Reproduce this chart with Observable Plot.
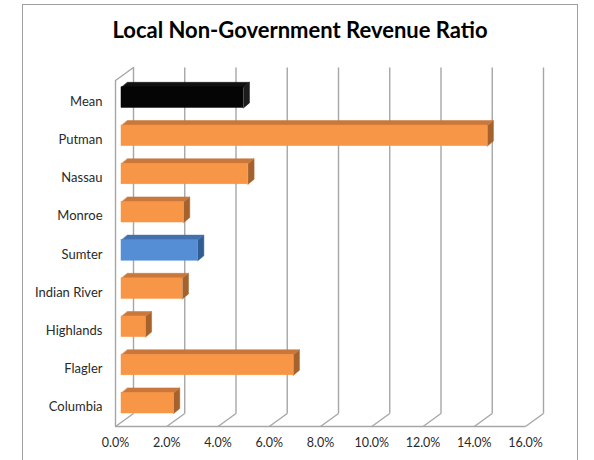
<!DOCTYPE html>
<html>
<head>
<meta charset="utf-8">
<script src="https://cdn.jsdelivr.net/npm/d3@7"></script>
<script src="https://cdn.jsdelivr.net/npm/@observablehq/plot@0.6"></script>
<style>
  html, body { margin: 0; padding: 0; background: #fff; }
  #wrap { position: relative; width: 594px; height: 460px; overflow: hidden; font-family: Lato, "Open Sans", sans-serif; }
  #frame { position: absolute; left: 22px; top: 4px; width: 556px; height: 480px; border: 1.5px solid #a0a0a0; box-sizing: border-box; }
  #title { position: absolute; left: 0; width: 594px; top: 19px; line-height: 22px; text-align: center; font-size: 22px; font-weight: 700; color: #000; padding-left: 6px; box-sizing: border-box; }
  #chart { position: absolute; left: 0; top: 0; }
</style>
</head>
<body>
<div id="wrap">
  <div id="frame"></div>
  <div id="chart"></div>
  <div id="title">Local Non-Government Revenue Ratio</div>
</div>
<script>
// ---- data ----
const categories = ["Mean", "Putman", "Nassau", "Monroe", "Sumter", "Indian River", "Highlands", "Flagler", "Columbia"];
const values = [0.0476, 0.1428, 0.0494, 0.0243, 0.0298, 0.0238, 0.0094, 0.0671, 0.0204];
const roles = ["mean", "county", "county", "county", "focus", "county", "county", "county", "county"];
const xTicks = [0, 0.02, 0.04, 0.06, 0.08, 0.10, 0.12, 0.14, 0.16];

// ---- styling ----
const palette = {
  mean:   {front: "#050505", top: "#111111", side: "#1c1c1c"},
  county: {front: "#F79646", top: "#C9773A", side: "#A6622C"},
  focus:  {front: "#558ED5", top: "#4371AE", side: "#305D92"}
};
const W = 594, H = 460;
const xDomain = [0, 0.16], xRange = [115, 525];
const yDomain = [-0.448, 8.61], yRange = [80, 426];
const kx = (xRange[1] - xRange[0]) / (xDomain[1] - xDomain[0]);
const ky = (yRange[1] - yRange[0]) / (yDomain[1] - yDomain[0]);
const wallDX = 18 / kx, wallDY = -13 / ky;
const barX0 = 6 / kx, barDX = 6 / kx, barDY = -5 / ky, barHalf = 10.3 / ky;
const yTop = yDomain[0], yFloor = yDomain[1];

const bars = categories.map((c, i) => ({
  cat: c, i, v: values[i], role: roles[i],
  x1: barX0, x2: barX0 + values[i], y1: i - barHalf, y2: i + barHalf
}));

// polygons for the 3D faces
const tops = [], sides = [];
bars.forEach(b => {
  const p = palette[b.role];
  [[b.x1, b.y1], [b.x2, b.y1], [b.x2 + barDX, b.y1 + barDY], [b.x1 + barDX, b.y1 + barDY]]
    .forEach(([x, y]) => tops.push({id: b.cat, x, y, fill: p.top}));
  [[b.x2, b.y1], [b.x2 + barDX, b.y1 + barDY], [b.x2 + barDX, b.y2 + barDY], [b.x2, b.y2]]
    .forEach(([x, y]) => sides.push({id: b.cat, x, y, fill: p.side}));
});

const leftWall = [
  {x: 0, y: yFloor}, {x: 0, y: yTop}, {x: wallDX, y: yTop + wallDY}
];

const gridColor = "#a6a6a6";

const chart = Plot.plot({
  width: W, height: H,
  marginLeft: xRange[0], marginRight: W - xRange[1],
  marginTop: yRange[0], marginBottom: H - yRange[1],
  x: {domain: xDomain, range: xRange},
  y: {domain: yDomain, range: yRange},
  color: {type: "identity"},
  style: {fontFamily: "Lato, 'Open Sans', sans-serif", fontSize: "12.5px", color: "#2a2a2a", background: "transparent"},
  marks: [
    // back wall gridlines
    Plot.link(xTicks, {x1: d => d + wallDX, x2: d => d + wallDX, y1: yFloor + wallDY, y2: yTop + wallDY, stroke: gridColor, strokeWidth: 1.4}),
    // floor gridlines
    Plot.link(xTicks, {x1: d => d, x2: d => d + wallDX, y1: yFloor, y2: yFloor + wallDY, stroke: gridColor, strokeWidth: 1.4}),
    // floor front edge
    Plot.link([0], {x1: 0, x2: xDomain[1], y1: yFloor, y2: yFloor, stroke: gridColor, strokeWidth: 1.4}),
    // left wall
    Plot.line(leftWall, {x: "x", y: "y", stroke: gridColor, strokeWidth: 1.4}),
    // bars: side, top, front
    Plot.line(sides, {x: "x", y: "y", z: "id", fill: "fill", stroke: "fill", strokeWidth: 0.5, curve: "linear-closed"}),
    Plot.line(tops, {x: "x", y: "y", z: "id", fill: "fill", stroke: "fill", strokeWidth: 0.5, curve: "linear-closed"}),
    Plot.rect(bars, {x1: "x1", x2: "x2", y1: "y1", y2: "y2", fill: d => palette[d.role].front, stroke: d => palette[d.role].front, strokeWidth: 0.5}),
    // axes
    Plot.axisX({ticks: xTicks, tickFormat: d3.format(".1%"), tickSize: 0, tickPadding: 12, anchor: "bottom", fontSize: 12.5}),
    Plot.axisY({ticks: d3.range(categories.length), tickFormat: i => categories[i], tickSize: 0, tickPadding: 13, dy: 4, anchor: "left", fontSize: 13})
  ]
});
document.getElementById("chart").appendChild(chart);
</script>
</body>
</html>
